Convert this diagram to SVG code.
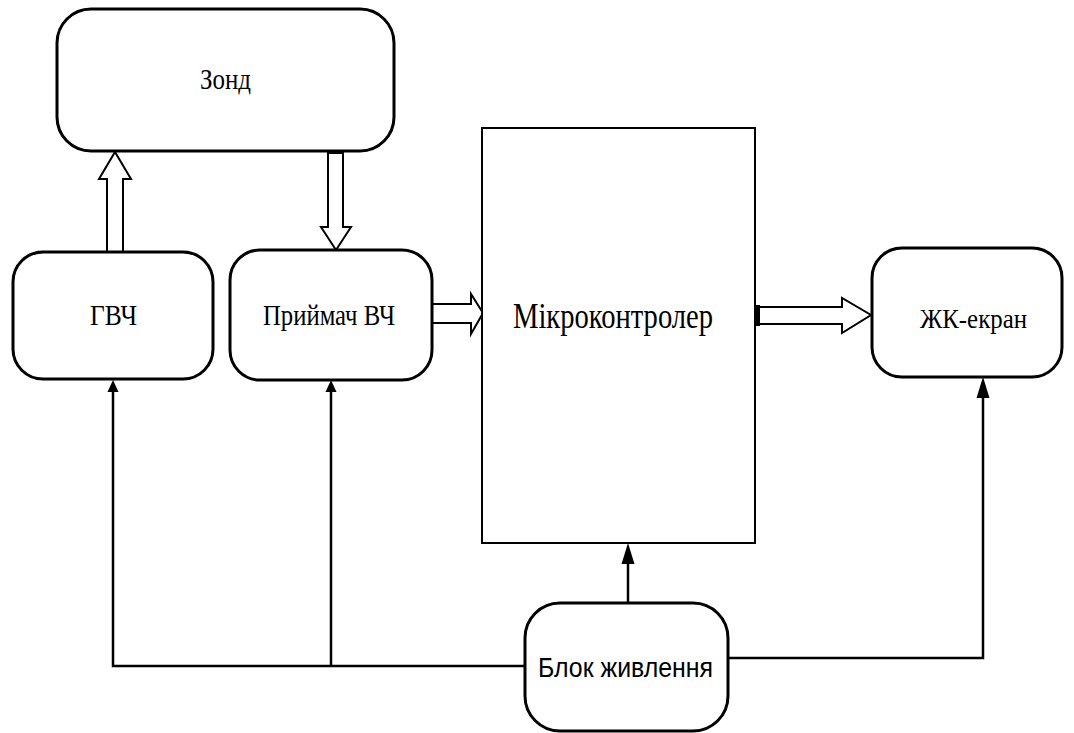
<svg xmlns="http://www.w3.org/2000/svg" width="1074" height="733" viewBox="0 0 1074 733">
<style>
.box{fill:#fff;stroke:#000;stroke-width:3}
.mc{fill:#fff;stroke:#000;stroke-width:2}
.t{font-family:"Liberation Serif","Times New Roman",serif;fill:#000;text-anchor:middle}
.s{font-family:"Liberation Sans",Arial,sans-serif;fill:#000;text-anchor:middle}
.hol{fill:#fff;stroke:#000;stroke-width:2;stroke-linejoin:miter}
.ln{fill:none;stroke:#000;stroke-width:2.5}
.ah{fill:#000}
</style>
<rect width="1074" height="733" fill="#fff"/>
<g id="connectors">
<polygon class="hol" points="107,252 107,179 99,179 115,152 131,179 123,179 123,252"/>
<polygon class="hol" points="328,152 328,227 321,227 336,250 351,227 343,227 343,152"/>
<rect x="328" y="150" width="15" height="4" class="ah"/>
<polygon class="hol" points="432,304 471,304 471,294 483,313 471,334 471,323 432,323"/>
<polygon class="hol" points="755,307 842,307 842,298 871,315 842,333 842,324 755,324"/>
<rect x="755" y="305" width="5" height="21" class="ah"/>
<line class="ln" x1="628" y1="603" x2="628" y2="560"/>
<polygon class="ah" points="628,543 621.5,564 634.5,564"/>
<polyline class="ln" points="525,666 113,666 113,390"/>
<polygon class="ah" points="113,380 107.5,392 118.5,392"/>
<line class="ln" x1="331" y1="666" x2="331" y2="390"/>
<polygon class="ah" points="331,380 325.5,392 336.5,392"/>
<polyline class="ln" points="728,658 983,658 983,395"/>
<polygon class="ah" points="983,377 976.5,398 989.5,398"/>
</g>
<g id="zond">
<rect class="box" x="57" y="9" width="337" height="142" rx="34" ry="34"/>
<text class="t" x="225.5" y="89" font-size="30" textLength="51" lengthAdjust="spacingAndGlyphs">Зонд</text>
</g>
<g id="gvch">
<rect class="box" x="13" y="252" width="200" height="127" rx="30" ry="30"/>
<text class="t" x="113.5" y="325" font-size="30" textLength="47" lengthAdjust="spacingAndGlyphs">ГВЧ</text>
</g>
<g id="pryimach">
<rect class="box" x="230" y="250" width="202" height="130" rx="30" ry="30"/>
<text class="t" x="329" y="325" font-size="30" textLength="132" lengthAdjust="spacingAndGlyphs">Приймач ВЧ</text>
</g>
<g id="mikrokontroler">
<rect class="mc" x="482" y="128" width="273" height="415"/>
<text class="t" x="613" y="328" font-size="35" textLength="200" lengthAdjust="spacingAndGlyphs">Мікроконтролер</text>
</g>
<g id="zhk">
<rect class="box" x="872" y="248" width="190" height="129" rx="30" ry="30"/>
<text class="t" x="973.5" y="328" font-size="27" textLength="107" lengthAdjust="spacingAndGlyphs">ЖК-екран</text>
</g>
<g id="blok">
<rect class="box" x="525" y="603" width="203" height="128" rx="35" ry="35"/>
<text class="s" x="625.5" y="677" font-size="28" textLength="175" lengthAdjust="spacingAndGlyphs">Блок живлення</text>
</g>
</svg>
